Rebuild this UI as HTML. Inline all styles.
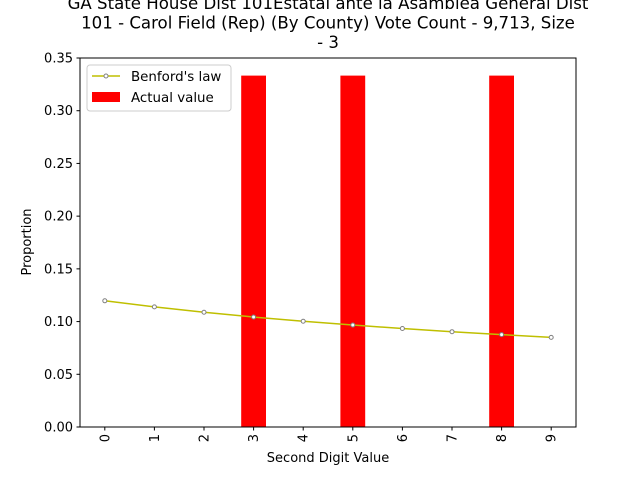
<!DOCTYPE html>
<html><head><meta charset="utf-8"><style>
body{margin:0;background:#fff}
svg{font-family:"DejaVu Sans","Liberation Sans",sans-serif}
</style></head><body>
<svg id="c" width="640" height="480" xmlns="http://www.w3.org/2000/svg"></svg>
<script>
const categories=["0","1","2","3","4","5","6","7","8","9"];
const benford=[0.1197,0.1139,0.1088,0.1043,0.1003,0.0967,0.0934,0.0904,0.0876,0.0850];
const actual=[0,0,0,0.3333,0,0.3333,0,0,0.3333,0];
const yTicks=[0,0.05,0.10,0.15,0.20,0.25,0.30,0.35];
const yTickLabels=["0.00","0.05","0.10","0.15","0.20","0.25","0.30","0.35"];
const NS="http://www.w3.org/2000/svg";
const svg=document.getElementById('c');
const L=80,R=576,T=58,B=427;
const x=i=>L+(i+0.5)*(R-L)/10;
const y=v=>B-v/0.35*(B-T);
function mk(t,a,p){const e=document.createElementNS(NS,t);for(const k in a)e.setAttribute(k,a[k]);(p||svg).appendChild(e);return e;}
const tl=["GA State House Dist 101Estatal ante la Asamblea General Dist","101 - Carol Field (Rep) (By County) Vote Count - 9,713, Size","- 3"];
const title=mk('text',{x:328,y:0,'text-anchor':'middle','font-size':16.6});


tl.forEach((s,i)=>{const ts=mk('tspan',{x:328,y:9+i*19.5},title);ts.textContent=s;});
actual.forEach((v,i)=>{if(v<=0)return;const r=mk('rect',{x:x(i)-12.4,y:y(v),width:24.8,height:B-y(v),fill:'#ff0000'});

});
const pl=mk('polyline',{points:benford.map((v,i)=>x(i)+','+y(v)).join(' '),fill:'none',stroke:'#bfbf00','stroke-width':1.5});


benford.forEach((v,i)=>{const c=mk('circle',{cx:x(i),cy:y(v),r:2,fill:'#fff',stroke:'#808080','stroke-width':1});

});
const fr=mk('rect',{x:L,y:T,width:R-L,height:B-T,fill:'none',stroke:'#000','stroke-width':1});


yTicks.forEach((v,i)=>{mk('line',{x1:L-3.5,x2:L,y1:y(v),y2:y(v),stroke:'#000'});
const t=mk('text',{x:L-7,y:y(v)+4.5,'text-anchor':'end','font-size':13});t.textContent=yTickLabels[i];

});
categories.forEach((c,i)=>{mk('line',{x1:x(i),x2:x(i),y1:B,y2:B+3.5,stroke:'#000'});
const t=mk('text',{x:0,y:0,'text-anchor':'end','font-size':13,transform:`translate(${x(i)+4.5},${B+7}) rotate(-90)`});t.textContent=c;

});
const xt=mk('text',{x:328,y:462,'text-anchor':'middle','font-size':13});xt.textContent='Second Digit Value';


const yt=mk('text',{x:0,y:0,'text-anchor':'middle','font-size':13,transform:'translate(31,242) rotate(-90)'});yt.textContent='Proportion';


const lg=mk('g',{});


mk('rect',{x:87,y:65,width:144,height:46,rx:3,fill:'#fff','fill-opacity':0.8,stroke:'#ccc'},lg);
mk('line',{x1:92,x2:120,y1:76,y2:76,stroke:'#bfbf00','stroke-width':1.5},lg);
mk('circle',{cx:106,cy:76,r:2,fill:'#fff',stroke:'#808080'},lg);
const l1=mk('text',{x:131,y:81,'font-size':13.4},lg);l1.textContent="Benford's law";


mk('rect',{x:92,y:92,width:28,height:10,fill:'#ff0000'},lg);
const l2=mk('text',{x:131,y:102,'font-size':13.4},lg);l2.textContent="Actual value";


</script>
</body></html>
